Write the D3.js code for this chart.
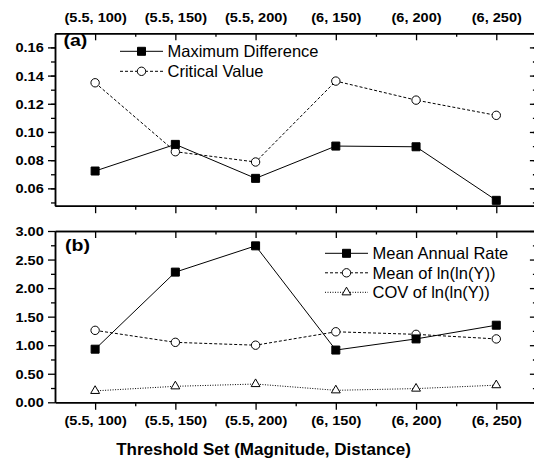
<!DOCTYPE html>
<html>
<head>
<meta charset="utf-8">
<script src="https://cdn.jsdelivr.net/npm/d3@7/dist/d3.min.js"></script>
<style>
  body { margin: 0; background: #fff; }
  svg { display: block; font-family: "Liberation Sans", Arial, sans-serif; }
  .axis path, .axis line { stroke: #000; }
  .axis path { stroke-width: 1.5; }
  .axis line { stroke-width: 1.3; }
  .axis text { font-size: 13px; font-weight: bold; fill: #000; font-family: "Liberation Sans", Arial, sans-serif; }
</style>
</head>
<body>
<svg id="chart" width="534" height="459"></svg>
<script>
// threshold sets on the x axis
var categories = ["(5.5, 100)", "(5.5, 150)", "(5.5, 200)", "(6, 150)", "(6, 200)", "(6, 250)"];

// panel (a)
var maxDiff  = [0.0723, 0.0912, 0.0671, 0.0900, 0.0895, 0.0515];
var critVal  = [0.1349, 0.0860, 0.0787, 0.1361, 0.1226, 0.1118];
var aTicks   = [0.06, 0.08, 0.10, 0.12, 0.14, 0.16];
var aMinor   = [0.05, 0.06, 0.07, 0.08, 0.09, 0.10, 0.11, 0.12, 0.13, 0.14, 0.15, 0.16];
var aLegend  = ["Maximum Difference", "Critical Value"];

// panel (b)
var meanRate = [0.93, 2.28, 2.74, 0.915, 1.11, 1.35];
var meanLnln = [1.26, 1.05, 1.00, 1.235, 1.19, 1.11];
var covLnln  = [0.20, 0.28, 0.32, 0.21, 0.24, 0.30];
var bTicks   = [0, 0.5, 1.0, 1.5, 2.0, 2.5, 3.0];
var bMinor   = [0.25, 0.75, 1.25, 1.75, 2.25, 2.75];
var bLegend  = ["Mean Annual Rate", "Mean of ln(ln(Y))", "COV of ln(ln(Y))"];

var xTitle = "Threshold Set (Magnitude, Distance)";

var svg = d3.select("#chart"),
    left = 55, right = 536.4,
    aTop = 33.3, aBot = 205.7,
    bTop = 231, bBot = 402.3,
    labelScale = "scale(1.12,1)";

var x = d3.scaleLinear().domain([0.5, categories.length + 0.5]).range([left, right]);
var xMajor = d3.range(1, categories.length + 1),
    xMinor = d3.range(1.5, categories.length, 1);

var ya = d3.scaleLinear().domain([0.0477, 0.17]).range([aBot, aTop]);
var yb = d3.scaleLinear().domain([0, 3]).range([bBot, bTop]);

function fixLabels(sel, tx, ty, anchor) {
  sel.selectAll("text")
    .attr("x", null).attr("y", null).attr("dy", null)
    .attr("text-anchor", anchor)
    .attr("transform", "translate(" + tx + "," + ty + ") " + labelScale);
}

function panelAxes(y, top, bot, major, minor, topLabels, bottomLabels) {
  var g = svg.append("g");
  // left
  g.append("g").attr("class", "axis").attr("transform", "translate(" + left + ",0)")
    .call(d3.axisLeft(y).tickValues(minor).tickSize(4).tickSizeOuter(0).tickFormat(""));
  g.append("g").attr("class", "axis").attr("transform", "translate(" + left + ",0)")
    .call(d3.axisLeft(y).tickValues(major).tickSize(7).tickSizeOuter(0).tickFormat(d3.format(".2f")))
    .call(fixLabels, -11.2, 4.6, "end");
  // right, ticks pointing in
  g.append("g").attr("class", "axis").attr("transform", "translate(" + right + ",0)")
    .call(d3.axisRight(y).tickValues(minor).tickSize(-3.5).tickSizeOuter(0).tickFormat(""));
  g.append("g").attr("class", "axis").attr("transform", "translate(" + right + ",0)")
    .call(d3.axisRight(y).tickValues(major).tickSize(-6.5).tickSizeOuter(0).tickFormat(""));
  // top, ticks pointing in
  g.append("g").attr("class", "axis").attr("transform", "translate(0," + top + ")")
    .call(d3.axisTop(x).tickValues(xMinor).tickSize(-3.5).tickSizeOuter(0).tickFormat(""));
  var t = g.append("g").attr("class", "axis").attr("transform", "translate(0," + top + ")")
    .call(d3.axisTop(x).tickValues(xMajor).tickSize(-7).tickSizeOuter(0)
      .tickFormat(topLabels ? function(d) { return categories[d - 1]; } : ""));
  if (topLabels) t.call(fixLabels, 0, -11, "middle");
  // bottom, ticks pointing out
  g.append("g").attr("class", "axis").attr("transform", "translate(0," + bot + ")")
    .call(d3.axisBottom(x).tickValues(xMinor).tickSize(4).tickSizeOuter(0).tickFormat(""));
  var b = g.append("g").attr("class", "axis").attr("transform", "translate(0," + bot + ")")
    .call(d3.axisBottom(x).tickValues(xMajor).tickSize(7.5).tickSizeOuter(0)
      .tickFormat(bottomLabels ? function(d) { return categories[d - 1]; } : ""));
  if (bottomLabels) b.call(fixLabels, 0, 22.5, "middle");
}

panelAxes(ya, aTop, aBot, aTicks, aMinor, true, false);
panelAxes(yb, bTop, bBot, bTicks, bMinor, false, true);

var square = d3.symbol(d3.symbolSquare).size(64),
    circle = d3.symbol(d3.symbolCircle).size(Math.PI * 4.2 * 4.2),
    triangle = d3.symbol(d3.symbolTriangle).size(34);

function series(values, y, dash, sym, fill) {
  var line = d3.line()
    .x(function(d, i) { return x(i + 1); })
    .y(function(d) { return y(d); });
  svg.append("path")
    .datum(values)
    .attr("d", line)
    .attr("fill", "none")
    .attr("stroke", "#000")
    .attr("stroke-width", 1)
    .attr("stroke-dasharray", dash);
  svg.append("g").selectAll("path")
    .data(values)
    .enter().append("path")
    .attr("d", sym)
    .attr("transform", function(d, i) { return "translate(" + x(i + 1) + "," + y(d) + ")"; })
    .attr("fill", fill)
    .attr("stroke", "#000")
    .attr("stroke-width", 1);
}

series(critVal, ya, "3,2", circle, "#fff");
series(maxDiff, ya, null, square, "#000");

series(meanLnln, yb, "3,2", circle, "#fff");
series(covLnln, yb, "1,1.5", triangle, "#fff");
series(meanRate, yb, null, square, "#000");

function legend(names, styles, x0, y0, step) {
  var g = svg.append("g");
  names.forEach(function(name, i) {
    var cy = y0 + i * step, s = styles[i];
    g.append("line")
      .attr("x1", x0).attr("x2", x0 + 43).attr("y1", cy).attr("y2", cy)
      .attr("stroke", "#000").attr("stroke-width", 1)
      .attr("stroke-dasharray", s.dash);
    g.append("path")
      .attr("d", s.sym)
      .attr("transform", "translate(" + (x0 + 21.5) + "," + cy + ")")
      .attr("fill", s.fill).attr("stroke", "#000").attr("stroke-width", 1);
    g.append("text")
      .attr("x", x0 + 47.5).attr("y", cy + 5.8)
      .attr("font-size", "16.5px")
      .text(name);
  });
}

legend(aLegend, [
  {dash: null, sym: square, fill: "#000"},
  {dash: "3,2", sym: circle, fill: "#fff"}
], 120, 51.3, 20);

legend(bLegend, [
  {dash: null, sym: square, fill: "#000"},
  {dash: "3,2", sym: circle, fill: "#fff"},
  {dash: "1,1.5", sym: triangle, fill: "#fff"}
], 325, 253.3, 19.5);

// panel letters
svg.append("text").attr("transform", "translate(63.5,46) scale(1.15,1)")
  .attr("font-size", "17px").attr("font-weight", "bold").text("(a)");
svg.append("text").attr("transform", "translate(65,250.5) scale(1.15,1)")
  .attr("font-size", "17px").attr("font-weight", "bold").text("(b)");

// x axis title
svg.append("text")
  .attr("x", 263.5).attr("y", 455)
  .attr("text-anchor", "middle")
  .attr("font-size", "17px").attr("font-weight", "bold")
  .text(xTitle);
</script>
</body>
</html>
